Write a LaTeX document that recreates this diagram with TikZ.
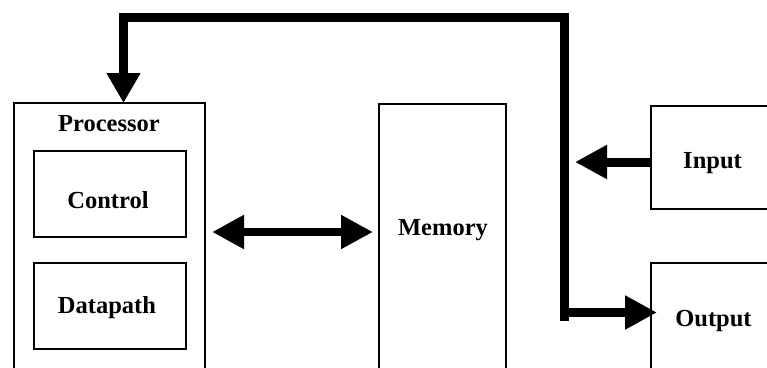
\documentclass[tikz,border=0pt]{standalone}
\usepackage{fontspec}
\setmainfont{Liberation Serif}
\usetikzlibrary{arrows.meta}
\begin{document}
\begin{tikzpicture}[x=1pt, y=-1pt,
  box/.style={draw, rectangle, line width=2.2pt, inner sep=0pt, outer sep=0pt},
  lbl/.style={font=\fontsize{24.5}{28}\selectfont\bfseries, anchor=base, inner sep=0pt},
  bus/.style={line width=9pt, line join=miter},
  tipA/.style={-{Triangle[length=32pt,width=32pt]}},
  tipTop/.style={-{Triangle[length=30pt,width=32pt]}},
  tipBoth/.style={{Triangle[length=32pt,width=32pt]}-{Triangle[length=32pt,width=32pt]}}]
\useasboundingbox (0,0) rectangle (767,367);
\clip (0,0) rectangle (767,367);
\fill[white] (0,0) rectangle (767,367);

% blocks
\node[box, minimum width=191pt, minimum height=297pt] (proc) at (109.5,251.5) {};
\node[box, minimum width=152pt, minimum height=86pt] (ctrl) at (110,194) {};
\node[box, minimum width=152pt, minimum height=86pt] (dp) at (110,306) {};
\node[box, minimum width=127pt, minimum height=296pt] (mem) at (442.5,252) {};
\node[box, minimum width=149pt, minimum height=103pt] (in) at (725.5,157.5) {};
\node[box, minimum width=149pt, minimum height=137pt] (out) at (725.5,331.5) {};

% labels
\node[lbl] (tproc) at (109,131) {Processor};
\node[lbl] (tctrl) at (108,208) {Control};
\node[lbl] (tdp) at (107,313) {Datapath};
\node[lbl] (tmem) at (443,235) {Memory};
\node[lbl] (tin) at (712.5,168) {Input};
\node[lbl] (tout) at (713.5,326) {Output};

% bus
\coordinate (busend) at (564,321);
\coordinate (bend) at (564,17);
\coordinate (corner) at (123.5,17);
\coordinate (tee) at (564,312.5);
\coordinate (intip) at (575,162);
\coordinate (dy) at (0,232);

\draw[bus, tipTop] (busend) -- (bend) -- (corner) -- (corner |- proc.north);
\draw[bus, tipA, shorten >=-6pt] (tee) -- (out.west |- tee);
\draw[bus, tipA] ([yshift=-4.5pt]in.west) -- (intip);
\draw[line width=8pt, tipBoth, shorten <=7pt, shorten >=6pt] (proc.east |- dy) -- (mem.west |- dy);
\end{tikzpicture}
\end{document}
